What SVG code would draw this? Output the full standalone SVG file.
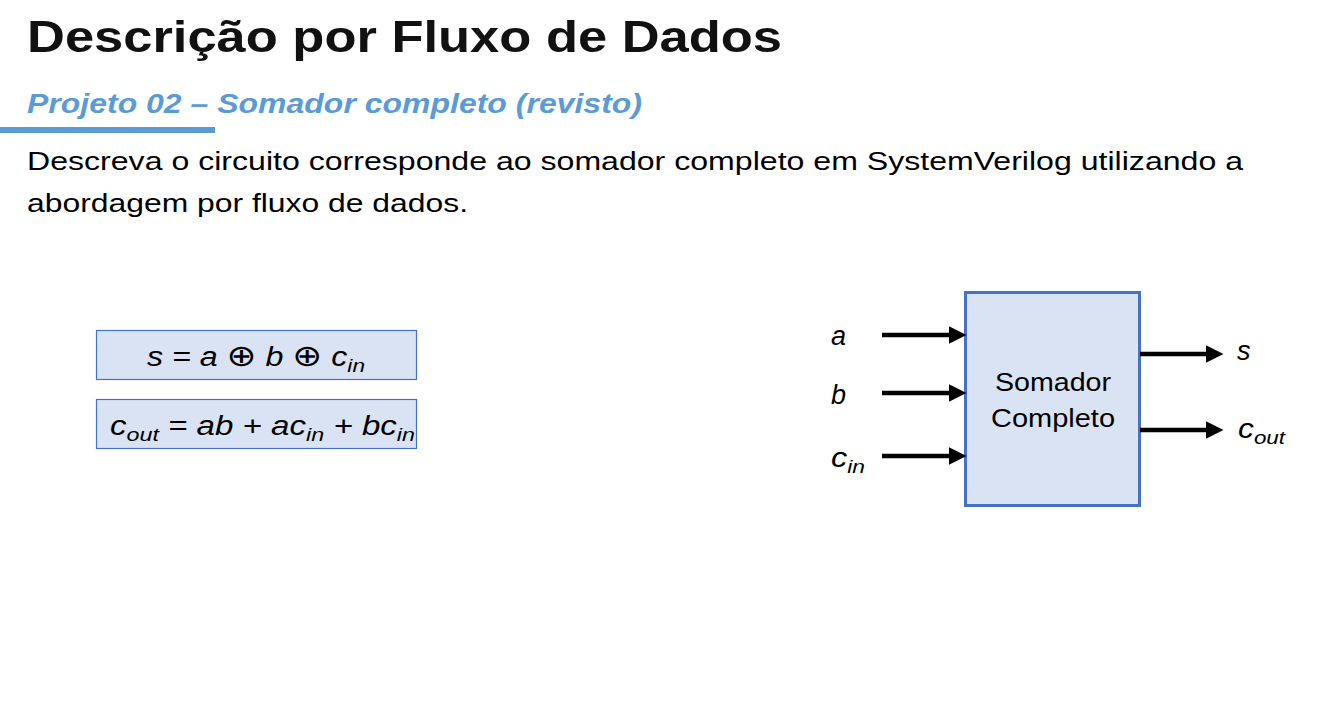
<svg xmlns="http://www.w3.org/2000/svg" width="1339" height="713" viewBox="0 0 1339 713">
<style>
text{font-family:"Liberation Sans",Arial,sans-serif}
.eq{font-size:27px;font-style:italic;fill:#000}
.sub{font-size:19px}
.op{font-style:normal;font-family:"DejaVu Sans",sans-serif;font-size:30px}
.box{fill:#DAE3F3;stroke:#4472C4;stroke-width:1.2}
.wire{stroke:#000;stroke-width:4.5;fill:none}
</style>
<defs>
<marker id="ah" markerWidth="4" markerHeight="4" refX="1" refY="2" orient="auto" markerUnits="strokeWidth" viewBox="0 0 4 4">
<path d="M0,0 L4,2 L0,4 z" fill="#000"/>
</marker>
</defs>
<rect width="1339" height="713" fill="#fff"/>
<g id="header">
<text x="27" y="52" font-size="44" font-weight="bold" fill="#111" textLength="755" lengthAdjust="spacingAndGlyphs">Descrição por Fluxo de Dados</text>
<text x="27" y="113" font-size="27" font-weight="bold" font-style="italic" fill="#5B9BD5" textLength="615" lengthAdjust="spacingAndGlyphs">Projeto 02 – Somador completo (revisto)</text>
<rect x="0" y="127" width="215" height="6" fill="#5B9BD5"/>
<text x="27" y="170" font-size="26" fill="#000" textLength="1216" lengthAdjust="spacingAndGlyphs">Descreva o circuito corresponde ao somador completo em SystemVerilog utilizando a</text>
<text x="27" y="212" font-size="26" fill="#000" textLength="441" lengthAdjust="spacingAndGlyphs">abordagem por fluxo de dados.</text>
</g>
<g id="eq1">
<rect class="box" x="96.5" y="330.5" width="320" height="49"/>
<text class="eq" x="147" y="366" textLength="218" lengthAdjust="spacingAndGlyphs">s = a <tspan class="op">⊕</tspan> b <tspan class="op">⊕</tspan> c<tspan class="sub" dy="6">in</tspan></text>
</g>
<g id="eq2">
<rect class="box" x="96.5" y="399.5" width="320" height="49"/>
<text class="eq" x="110" y="435" textLength="305" lengthAdjust="spacingAndGlyphs">c<tspan class="sub" dy="6">out</tspan><tspan dy="-6"> = ab + ac</tspan><tspan class="sub" dy="6">in</tspan><tspan dy="-6"> + bc</tspan><tspan class="sub" dy="6">in</tspan></text>
</g>
<g id="adder">
<rect x="965.5" y="292.5" width="174" height="213" fill="#DAE3F3" stroke="#4472C4" stroke-width="3"/>
<text x="995" y="391" font-size="25" fill="#000" textLength="116" lengthAdjust="spacingAndGlyphs">Somador</text>
<text x="991" y="427" font-size="25" fill="#000" textLength="124" lengthAdjust="spacingAndGlyphs">Completo</text>
</g>
<g id="connectors">
<line class="wire" x1="882" y1="335" x2="953" y2="335" marker-end="url(#ah)"/>
<line class="wire" x1="882" y1="393" x2="953" y2="393" marker-end="url(#ah)"/>
<line class="wire" x1="882" y1="456" x2="953" y2="456" marker-end="url(#ah)"/>
<line class="wire" x1="1140" y1="354" x2="1210" y2="354" marker-end="url(#ah)"/>
<line class="wire" x1="1140" y1="430" x2="1210" y2="430" marker-end="url(#ah)"/>
</g>
<g id="labels">
<text class="eq" x="831" y="345">a</text>
<text class="eq" x="831" y="404">b</text>
<text class="eq" x="831" y="467" textLength="34" lengthAdjust="spacingAndGlyphs">c<tspan class="sub" dy="6">in</tspan></text>
<text class="eq" x="1237" y="360">s</text>
<text class="eq" x="1238" y="438" textLength="47" lengthAdjust="spacingAndGlyphs">c<tspan class="sub" dy="6">out</tspan></text>
</g>
</svg>
